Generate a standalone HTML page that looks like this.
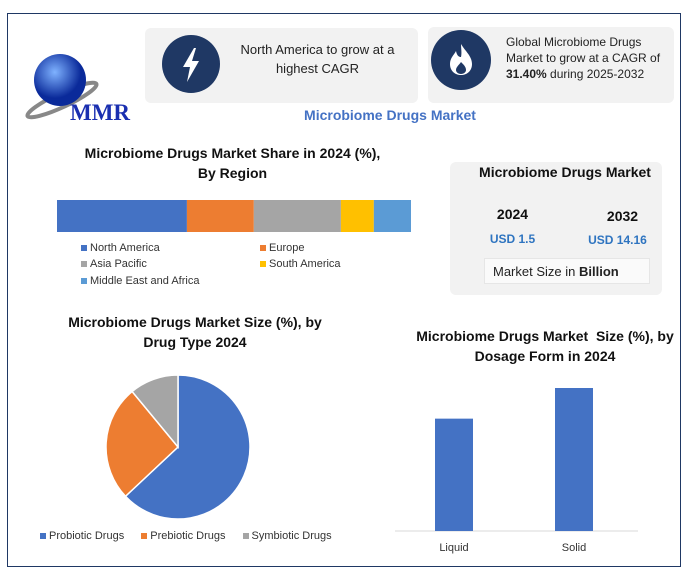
<!DOCTYPE html>
<html><head><meta charset="utf-8"><style>
body{margin:0;width:687px;height:577px;background:#fff;font-family:"Liberation Sans",sans-serif;position:relative;overflow:hidden}
.abs{position:absolute}
.t{font-weight:bold;color:#111;text-align:center;font-size:14px;line-height:20px}
.card{background:#f2f2f2;border-radius:6px}
.leg{font-size:11px;color:#333}
.sq{display:inline-block;width:6px;height:6px;margin-right:3px}
</style></head><body>
<div class="abs" style="left:7px;top:13px;width:672px;height:552px;border:1.5px solid #1f3864"></div>

<svg class="abs" style="left:20px;top:45px" width="115" height="90">
<defs><radialGradient id="g" cx="40%" cy="35%"><stop offset="0" stop-color="#7fb2ff"/><stop offset="1" stop-color="#0a2a9a"/></radialGradient></defs>
<ellipse cx="42" cy="55" rx="38" ry="7" fill="none" stroke="#888" stroke-width="4" transform="rotate(-25 42 55)"/>
<circle cx="40" cy="35" r="26" fill="url(#g)"/>
<text x="50" y="75" font-family="Liberation Serif" font-weight="bold" font-size="23" fill="#1a2fb0">MMR</text>
</svg>

<div class="abs card" style="left:145px;top:28px;width:273px;height:75px"></div>
<svg class="abs" style="left:162px;top:35px" width="58" height="58">
<circle cx="29" cy="29" r="29" fill="#1f3864"/>
<polygon points="32,13 21,32 28,32 25,47 37,26 30,26 34,13" fill="#fff"/>
</svg>
<div class="abs" style="left:225px;top:40px;width:185px;text-align:center;font-size:13px;line-height:19px;color:#222">North America to grow at a highest CAGR</div>

<div class="abs card" style="left:428px;top:27px;width:246px;height:76px"></div>
<svg class="abs" style="left:431px;top:30px" width="60" height="60">
<circle cx="30" cy="30" r="30" fill="#1f3864"/>
<path d="M30,14 C34,21 41,26 41,34 C41,41 36,45 30,45 C24,45 19,41 19,34 C19,28 23,25 25,21 C26,26 28,27 30,27 C31,23 30,18 30,14 Z" fill="#fff"/>
<path d="M30,32 C33,35 35,37 35,40 C35,42 33,44 30,44 C27,44 25,42 25,40 C25,37 28,35 30,32 Z" fill="#1f3864"/>
</svg>
<div class="abs" style="left:506px;top:34px;width:170px;font-size:12px;line-height:16px;color:#222">Global Microbiome Drugs Market to grow at a CAGR of <b>31.40%</b> during 2025-2032</div>

<div class="abs" style="left:250px;top:107px;width:280px;text-align:center;font-size:14px;font-weight:bold;color:#4472c4">Microbiome Drugs Market</div>

<div class="abs t" style="left:40px;top:143px;width:385px">Microbiome Drugs Market Share in 2024 (%),<br>By Region</div>
<svg class="abs" id="region" style="left:0;top:0" width="440" height="240"></svg>
<div class="abs leg" style="left:81px;top:240px;width:300px;line-height:16.5px">
<div style="position:absolute;left:0;top:0"><span class="sq" style="background:#4472c4"></span>North America</div>
<div style="position:absolute;left:179px;top:0"><span class="sq" style="background:#ed7d31"></span>Europe</div>
<div style="position:absolute;left:0;top:16px"><span class="sq" style="background:#a5a5a5"></span>Asia Pacific</div>
<div style="position:absolute;left:179px;top:16px"><span class="sq" style="background:#ffc000"></span>South America</div>
<div style="position:absolute;left:0;top:33px;white-space:nowrap"><span class="sq" style="background:#5b9bd5"></span>Middle East and Africa</div>
</div>

<div class="abs card" style="left:450px;top:162px;width:212px;height:133px"></div>
<div class="abs t" style="left:470px;top:162px;width:190px">Microbiome Drugs Market</div>
<div class="abs t" style="left:480px;top:204px;width:65px">2024</div>
<div class="abs t" style="left:590px;top:206px;width:65px">2032</div>
<div class="abs" style="left:480px;top:232px;width:65px;text-align:center;font-size:12px;font-weight:bold;color:#2e74c0">USD 1.5</div>
<div class="abs" style="left:580px;top:233px;width:75px;text-align:center;font-size:12px;font-weight:bold;color:#2e74c0">USD 14.16</div>
<div class="abs" style="left:484px;top:258px;width:166px;height:26px;background:#fafafa;border:1px solid #e6e6e6;font-size:13px;line-height:26px;padding-left:8px;box-sizing:border-box;color:#222">Market Size in <b>Billion</b></div>

<div class="abs t" style="left:40px;top:312px;width:310px">Microbiome Drugs Market Size (%), by<br>Drug Type 2024</div>
<svg class="abs" id="pie" style="left:0;top:0" width="360" height="560"></svg>
<div class="abs leg" style="left:40px;top:530px;white-space:nowrap">
<span><span class="sq" style="background:#4472c4"></span>Probiotic Drugs</span>
<span style="margin-left:14px"><span class="sq" style="background:#ed7d31"></span>Prebiotic Drugs</span>
<span style="margin-left:14px"><span class="sq" style="background:#a5a5a5"></span>Symbiotic Drugs</span>
</div>

<div class="abs t" style="left:405px;top:326px;width:280px">Microbiome Drugs Market&nbsp; Size (%), by<br>Dosage Form in 2024</div>
<svg class="abs" id="bars" style="left:0;top:0" width="687" height="577"></svg>

<script>
const regions=["North America","Europe","Asia Pacific","South America","Middle East and Africa"];
const regionShare=[36.7,18.9,24.6,9.3,10.5];
const regionColors=["#4472c4","#ed7d31","#a5a5a5","#ffc000","#5b9bd5"];
const drugTypes=["Probiotic Drugs","Prebiotic Drugs","Symbiotic Drugs"];
const drugShare=[63,26,11];
const drugColors=["#4472c4","#ed7d31","#a5a5a5"];
const dosageForms=["Liquid","Solid"];
const dosageValues=[44,56];
const NS="http://www.w3.org/2000/svg";
function mk(p,t,a){const e=document.createElementNS(NS,t);for(const k in a)e.setAttribute(k,a[k]);p.appendChild(e);return e;}

const rs=document.getElementById('region');
const tot=regionShare.reduce((a,b)=>a+b,0);
const xS=v=>57+v/tot*354;
let acc=0;
regionShare.forEach((v,i)=>{
 const r=mk(rs,'rect',{x:xS(acc),y:200,width:xS(acc+v)-xS(acc),height:32,fill:regionColors[i]});
 
 
 acc+=v;
});

const ps=document.getElementById('pie');
const cx=178,cy=447,R=72;
let a0=0;
const ptot=drugShare.reduce((a,b)=>a+b,0);
drugShare.forEach((v,i)=>{
 const a1=a0+v/ptot*2*Math.PI;
 const p=(a)=>[cx+R*Math.sin(a),cy-R*Math.cos(a)];
 const [x0,y0]=p(a0),[x1,y1]=p(a1);
 const s=mk(ps,'path',{d:`M${cx},${cy}L${x0},${y0}A${R},${R} 0 ${a1-a0>Math.PI?1:0} 1 ${x1},${y1}Z`,fill:drugColors[i],stroke:'#fff','stroke-width':1.5});
 
 
 a0=a1;
});

const bs=document.getElementById('bars');
const base=531, pxPer=143/56;
const yS=v=>base-v*pxPer;
const ax=mk(bs,'line',{x1:395,x2:638,y1:base,y2:base,stroke:'#d9d9d9'});


const band=120, x0b=394;
dosageForms.forEach((c,i)=>{
 const xc=x0b+band*(i+0.5);
 const b=mk(bs,'rect',{x:xc-19,y:yS(dosageValues[i]),width:38,height:base-yS(dosageValues[i]),fill:'#4472c4'});
 
 
 const t=mk(bs,'text',{x:xc,y:551,'text-anchor':'middle','font-size':11,fill:'#333','font-family':'Liberation Sans'});
 t.textContent=c;
 
 
});
</script>
</body></html>
